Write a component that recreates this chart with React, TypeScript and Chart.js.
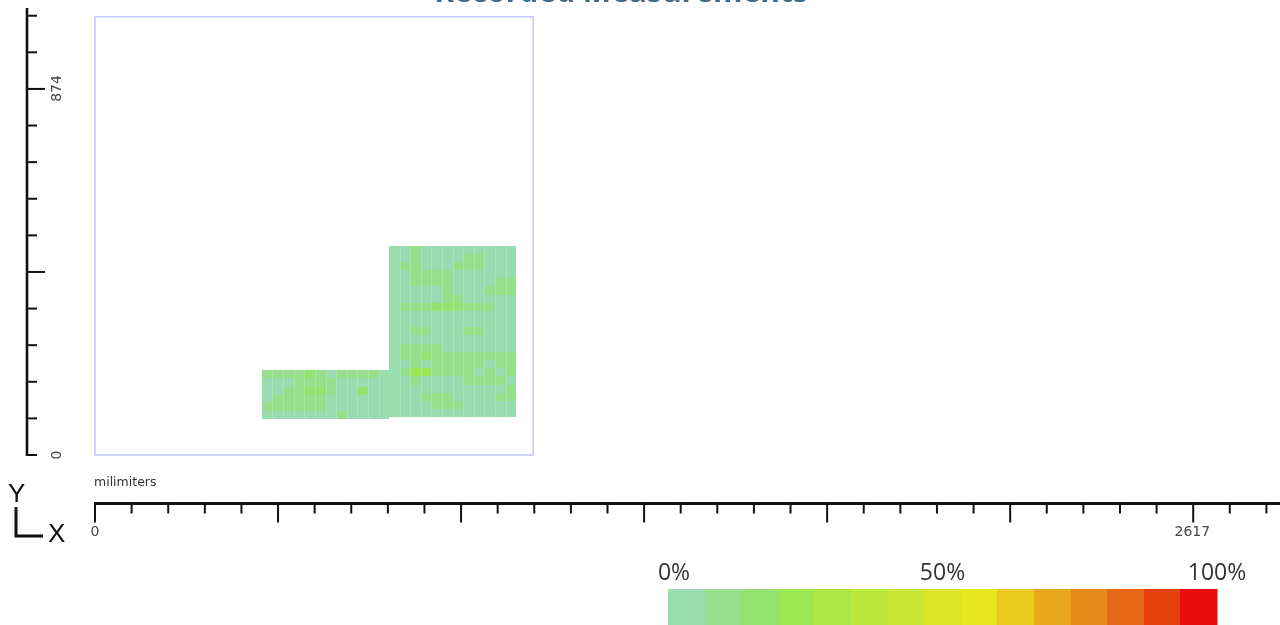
import React, { useEffect, useRef } from "react";
import { Chart, registerables } from "chart.js";

Chart.register(...registerables);

// ---------- data ----------
const chartTitle = "Recorded Measurements";
const unitLabel = "milimiters";
const xTickLabels = [0, 2617];
const yTickLabels = [0, 874];
const rulerStep = 87.3; // mm between ruler ticks
const majorEvery = 5;
const plotBoxSize = [1045, 1045]; // mm
const xRange = [0, 2826];
const yRange = [0, 1066];

const legendColors = [
  "#98dcb0", "#96e08c", "#92e370", "#9ce854", "#ade647",
  "#bce83e", "#c9e634", "#d9e628", "#e8e61e", "#e9c91c",
  "#e7a81c", "#e68918", "#e46816", "#e4400e", "#e90c10",
];
const legendLabels = ["0%", "50%", "100%"];
const legendLabelValues = [0, 50, 100];

const cellWidth = 25.3; // mm
const cellHeight = 19.5; // mm
const leftBlockOrigin = [398, 85];
const rightBlockOrigin = [701, 90];

// values in %, rows listed top to bottom
const leftBlockValues = [
  [10, 10, 10, 12, 17, 10, 4, 10, 10, 10, 10, 4],
  [4, 4, 4, 10, 10, 10, 10, 4, 4, 4, 4, 4],
  [4, 4, 10, 10, 18, 18, 10, 4, 4, 16, 4, 4],
  [4, 10, 10, 10, 10, 10, 4, 4, 4, 4, 4, 4],
  [10, 10, 10, 10, 10, 10, 4, 4, 4, 4, 4, 4],
  [4, 4, 4, 4, 4, 4, 4, 10, 4, 4, 4, 4],
];

const rightBlockValues = [
  [4, 4, 10, 4, 4, 4, 4, 4, 4, 4, 4, 4],
  [4, 4, 10, 4, 4, 4, 4, 10, 10, 4, 4, 4],
  [4, 10, 10, 4, 4, 4, 10, 10, 10, 4, 4, 4],
  [4, 4, 10, 10, 10, 10, 4, 4, 4, 4, 4, 4],
  [4, 4, 10, 10, 10, 10, 4, 4, 4, 4, 10, 10],
  [4, 4, 4, 4, 4, 10, 4, 4, 4, 10, 10, 10],
  [4, 4, 4, 4, 4, 10, 10, 4, 4, 4, 4, 4],
  [4, 10, 10, 10, 16, 16, 16, 10, 10, 10, 4, 4],
  [4, 4, 4, 4, 4, 4, 4, 4, 4, 4, 4, 4],
  [4, 4, 4, 4, 4, 4, 4, 4, 4, 4, 4, 4],
  [4, 4, 10, 10, 4, 4, 4, 10, 10, 4, 4, 4],
  [4, 4, 4, 4, 4, 4, 4, 4, 4, 4, 4, 4],
  [4, 10, 10, 10, 10, 4, 4, 4, 4, 4, 4, 4],
  [4, 10, 10, 16, 10, 10, 10, 10, 10, 10, 10, 10],
  [4, 4, 10, 4, 10, 10, 10, 10, 10, 4, 10, 10],
  [4, 10, 22, 22, 10, 10, 10, 10, 4, 10, 4, 10],
  [4, 4, 10, 4, 4, 4, 4, 10, 10, 10, 10, 4],
  [4, 4, 4, 4, 4, 4, 4, 4, 4, 4, 4, 10],
  [4, 4, 4, 10, 10, 10, 4, 4, 4, 4, 10, 10],
  [4, 4, 4, 4, 10, 10, 10, 4, 4, 4, 4, 4],
  [4, 4, 4, 4, 4, 4, 4, 4, 4, 4, 4, 4],
];

// ---------- drawing ----------
function colorFor(v: number) {
  const idx = Math.max(0, Math.min(legendColors.length - 1, Math.floor((v / 100) * legendColors.length)));
  return legendColors[idx];
}

const RULER_FONT = '14px "DejaVu Sans", sans-serif';
const UNIT_FONT = '12.5px "DejaVu Sans", sans-serif';

const measurePlugin = {
  id: "measurePlugin",
  afterDraw(chart: any) {
    const ctx: CanvasRenderingContext2D = chart.ctx;
    const xs = chart.scales.x;
    const ys = chart.scales.y;
    const area = chart.chartArea;
    const W = chart.width;

    ctx.save();

    // title (partly above the canvas, as in the reference)
    ctx.fillStyle = "#3e6b85";
    ctx.font = 'bold 30px "Open Sans", sans-serif';
    ctx.textAlign = "center";
    ctx.textBaseline = "alphabetic";
    ctx.fillText(chartTitle, 621, 2);

    // cells
    const drawBlock = (origin: number[], values: number[][]) => {
      const nRows = values.length;
      values.forEach((row, r) => {
        const yb = origin[1] + (nRows - 1 - r) * cellHeight;
        row.forEach((v, c) => {
          const xl = origin[0] + c * cellWidth;
          const px0 = Math.round(xs.getPixelForValue(xl));
          const px1 = Math.round(xs.getPixelForValue(xl + cellWidth));
          const py0 = Math.round(ys.getPixelForValue(yb + cellHeight));
          const py1 = Math.round(ys.getPixelForValue(yb));
          ctx.fillStyle = colorFor(v);
          ctx.fillRect(px0, py0, px1 - px0, py1 - py0);
        });
      });
      // faint column separators
      const top = Math.round(ys.getPixelForValue(origin[1] + nRows * cellHeight));
      const bot = Math.round(ys.getPixelForValue(origin[1]));
      ctx.fillStyle = "rgba(255,255,255,0.2)";
      for (let c = 1; c < values[0].length; c++) {
        const px = Math.round(xs.getPixelForValue(origin[0] + c * cellWidth));
        ctx.fillRect(px, top, 1, bot - top);
      }
    };
    drawBlock(leftBlockOrigin, leftBlockValues);
    drawBlock(rightBlockOrigin, rightBlockValues);

    // plot box
    const bx0 = xs.getPixelForValue(0);
    const bx1 = xs.getPixelForValue(plotBoxSize[0]);
    const by0 = ys.getPixelForValue(plotBoxSize[1]);
    const by1 = ys.getPixelForValue(0);
    ctx.strokeStyle = "#c3c8fb";
    ctx.lineWidth = 1.5;
    ctx.strokeRect(bx0, by0, bx1 - bx0, by1 - by0);

    // ----- Y ruler -----
    const rx = area.left - 68;
    ctx.strokeStyle = "#111";
    ctx.lineWidth = 2.6;
    ctx.beginPath();
    ctx.moveTo(rx, ys.getPixelForValue(0) + 1);
    ctx.lineTo(rx, area.top);
    ctx.stroke();
    ctx.lineWidth = 2;
    for (let k = 0; k * rulerStep <= yRange[1]; k++) {
      const py = ys.getPixelForValue(k * rulerStep);
      const major = k > 0 && k % majorEvery === 0;
      ctx.beginPath();
      ctx.moveTo(rx, py);
      ctx.lineTo(rx + (major ? 18 : 10), py);
      ctx.stroke();
    }
    ctx.fillStyle = "#444";
    ctx.font = RULER_FONT;
    ctx.textAlign = "center";
    ctx.textBaseline = "middle";
    yTickLabels.forEach((v) => {
      const py = ys.getPixelForValue(v);
      ctx.save();
      ctx.translate(rx + 30, py);
      ctx.rotate(-Math.PI / 2);
      ctx.fillText(String(v), 0, 0);
      ctx.restore();
    });

    // ----- X ruler -----
    const ry = area.bottom + 48.5;
    ctx.strokeStyle = "#111";
    ctx.lineWidth = 2.8;
    ctx.beginPath();
    ctx.moveTo(xs.getPixelForValue(0) - 1, ry);
    ctx.lineTo(W, ry);
    ctx.stroke();
    ctx.lineWidth = 2;
    for (let k = 0; k * rulerStep <= xRange[1]; k++) {
      const px = xs.getPixelForValue(k * rulerStep);
      const major = k % majorEvery === 0;
      ctx.beginPath();
      ctx.moveTo(px, ry);
      ctx.lineTo(px, ry + (major ? 19 : 10));
      ctx.stroke();
    }
    ctx.fillStyle = "#444";
    ctx.font = RULER_FONT;
    ctx.textAlign = "center";
    ctx.textBaseline = "middle";
    xTickLabels.forEach((v) => {
      ctx.fillText(String(v), xs.getPixelForValue(v), ry + 29);
    });

    // unit label
    ctx.textAlign = "left";
    ctx.fillStyle = "#333";
    ctx.font = UNIT_FONT;
    ctx.fillText(unitLabel, area.left - 1, ry - 21);

    // axis indicator
    ctx.fillStyle = "#111";
    ctx.font = '26px "Liberation Sans", Arial, sans-serif';
    ctx.textAlign = "left";
    ctx.textBaseline = "alphabetic";
    ctx.fillText("Y", 8, 502);
    ctx.fillText("X", 48, 542);
    ctx.strokeStyle = "#111";
    ctx.lineWidth = 3;
    ctx.beginPath();
    ctx.moveTo(16, 507);
    ctx.lineTo(16, 536);
    ctx.lineTo(43, 536);
    ctx.stroke();

    // ----- colour legend -----
    const lx0 = 668;
    const lx1 = 1217;
    const segW = (lx1 - lx0) / legendColors.length;
    legendColors.forEach((col, i) => {
      ctx.fillStyle = col;
      ctx.fillRect(Math.round(lx0 + i * segW), 589, Math.ceil(segW) + 0.5, 40);
    });
    ctx.fillStyle = "#333";
    ctx.font = '23px "Open Sans", sans-serif';
    ctx.textAlign = "center";
    ctx.textBaseline = "alphabetic";
    legendLabels.forEach((t, i) => {
      let px = lx0 + (legendLabelValues[i] / 100) * (lx1 - lx0);
      if (i === 0) px += 6;
      ctx.fillText(t, px, 580);
    });

    ctx.restore();
  },
};

export default function App() {
  const ref = useRef<HTMLCanvasElement>(null);

  useEffect(() => {
    if (!ref.current) return;
    const chart = new Chart(ref.current, {
      type: "scatter",
      data: { datasets: [] },
      options: {
        animation: false,
        responsive: false,
        maintainAspectRatio: false,
        layout: { padding: { left: 95, top: 8, right: 0, bottom: 170 } },
        plugins: {
          legend: { display: false },
          title: { display: false },
          tooltip: { enabled: false },
        },
        scales: {
          x: { type: "linear", min: xRange[0], max: xRange[1], display: false },
          y: { type: "linear", min: yRange[0], max: yRange[1], display: false },
        },
      },
      plugins: [measurePlugin as any],
    });
    return () => chart.destroy();
  }, []);

  return (
    <div style={{ position: "absolute", left: 0, top: 0, width: 1280, height: 625, background: "#fff" }}>
      <canvas ref={ref} width={1280} height={625} style={{ width: 1280, height: 625, display: "block" }} />
    </div>
  );
}
